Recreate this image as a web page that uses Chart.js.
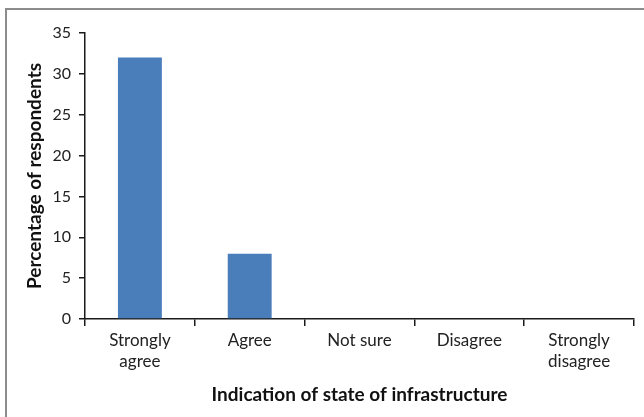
<!DOCTYPE html>
<html>
<head>
<meta charset="utf-8">
<script src="https://cdn.jsdelivr.net/npm/chart.js@4/dist/chart.umd.min.js"></script>
<style>
  html, body { margin: 0; padding: 0; background: #fff; }
  #wrap { position: relative; width: 644px; height: 417px; }
</style>
</head>
<body>
<div id="wrap"><canvas id="c" width="644" height="417"></canvas></div>
<script>
// Survey responses on the state of infrastructure
const categories = [['Strongly', 'agree'], 'Agree', 'Not sure', 'Disagree', ['Strongly', 'disagree']];
const percentages = [32, 8, 0, 0, 0];
const yTicks = [0, 5, 10, 15, 20, 25, 30, 35];

const FONT = 'Lato, "Open Sans", sans-serif';
const AXIS = '#1a1a1a';

// Grey frame along the top and left edges
const framePlugin = {
  id: 'frame',
  beforeDraw(chart) {
    const ctx = chart.ctx;
    ctx.save();
    ctx.strokeStyle = '#8c8c8c';
    ctx.lineWidth = 2;
    ctx.beginPath();
    ctx.moveTo(6, 417);
    ctx.lineTo(6, 9);
    ctx.lineTo(644, 9);
    ctx.stroke();
    ctx.restore();
  }
};

new Chart(document.getElementById('c'), {
  type: 'bar',
  data: {
    labels: categories,
    datasets: [{
      data: percentages,
      backgroundColor: '#4a7ebb',
      barPercentage: 0.4,
      categoryPercentage: 1.0
    }]
  },
  options: {
    responsive: false,
    animation: false,
    layout: { padding: { top: 33, right: 10, left: 0, bottom: 0 } },
    plugins: { legend: { display: false }, tooltip: { enabled: false } },
    scales: {
      x: {
        offset: true,
        grid: { offset: true, drawOnChartArea: false, drawTicks: true, tickLength: 7, color: AXIS, lineWidth: 1.5 },
        border: { display: true, color: AXIS, width: 1.5 },
        ticks: { color: '#222', font: { family: FONT, size: 17, lineHeight: 1.25 }, padding: 4, maxRotation: 0, autoSkip: false },
        title: { display: true, text: 'Indication of state of infrastructure', color: '#111',
                 font: { family: FONT, size: 19, weight: 'bold' }, padding: { top: 0, bottom: 11 } },
        afterFit(scale) { scale.height = 98; }
      },
      y: {
        min: 0, max: 35,
        afterBuildTicks(scale) { scale.ticks = yTicks.map(v => ({ value: v })); },
        grid: { drawOnChartArea: false, drawTicks: true, tickLength: 6, color: AXIS, lineWidth: 1.5 },
        border: { display: true, color: AXIS, width: 1.5 },
        ticks: { color: '#222', font: { family: FONT, size: 16 }, padding: 8 },
        title: { display: true, text: 'Percentage of respondents', color: '#111',
                 font: { family: FONT, size: 19, weight: 'bold' }, padding: { top: 23, bottom: 0 } },
        afterFit(scale) { scale.width = 85; }
      }
    }
  },
  plugins: [framePlugin]
});
</script>
</body>
</html>
